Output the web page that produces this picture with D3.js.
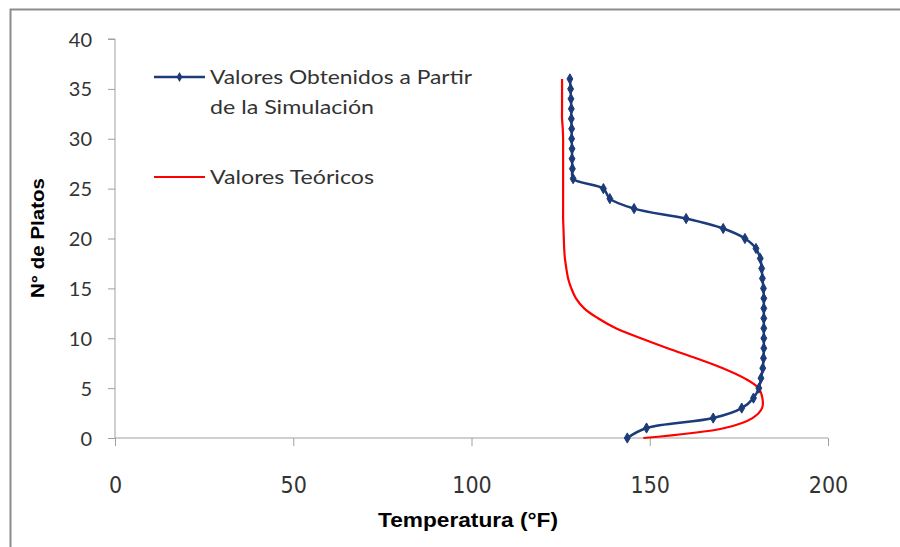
<!DOCTYPE html>
<html>
<head>
<meta charset="utf-8">
<script src="https://cdn.jsdelivr.net/npm/d3@7"></script>
<style>
  html, body { margin: 0; padding: 0; background: #fff; }
  svg { display: block; }
</style>
</head>
<body>
<svg id="chart" width="900" height="547"></svg>
<script>
// ---- Data ----
const plates = [0,1,2,3,4,5,6,7,8,9,10,11,12,13,14,15,16,17,18,19,20,21,22,23,24,25,26,27,28,29,30,31,32,33,34,35,36];
const simulatedTemp = [143.7,149.1,167.8,175.8,179.1,180.6,181.2,181.7,181.9,182,182,182,182,182,182,181.9,181.6,181.4,181,179.8,176.7,170.6,160.2,145.6,138.8,137.0,128.5,128.3,128.2,128.2,128.1,128.1,128.0,128.0,127.9,127.8,127.6];
const theoreticalTemp = [148.2,171,178.8,181.5,181.6,180.5,176.5,170.5,163,155,147.5,140.5,135.5,131.6,129.3,128,127.1,126.6,126.2,126,125.9,125.8,125.7,125.7,125.7,125.7,125.7,125.7,125.7,125.7,125.7,125.6,125.4,125.4,125.4,125.4,125.4];
const xTicks = [0,50,100,150,200];
const yTicks = [0,5,10,15,20,25,30,35,40];
const seriesNames = ["Valores Obtenidos a Partir", "de la Simulación", "Valores Teóricos"];
const xTitle = "Temperatura (°F)";
const yTitle = "N° de Platos";

// ---- Layout ----
const svg = d3.select("#chart");
const plotLeft = 115, plotRight = 828, plotTop = 39, plotBottom = 438;
const x = d3.scaleLinear().domain([0, 200]).range([plotLeft, plotRight]);
const y = d3.scaleLinear().domain([0, 40]).range([plotBottom, plotTop]);

const navy = "#1c3b7a";
const red = "#ff0000";
const axisGray = "#a0a0a0";
const labelFont = "Lato, 'Open Sans', sans-serif";
const narrowFont = "'Liberation Sans Narrow', 'DejaVu Sans Condensed', 'Liberation Sans', sans-serif";

// outer border
svg.append("rect").attr("x", 10.5).attr("y", 9.5).attr("width", 900).attr("height", 560)
  .attr("fill", "none").attr("stroke", "#8c8c8c").attr("stroke-width", 2);

// Y axis
const yAxis = d3.axisLeft(y).tickValues(yTicks).tickSize(7).tickPadding(16);
const gy = svg.append("g").attr("transform", `translate(${plotLeft},0)`).call(yAxis);
gy.select(".domain").attr("stroke", axisGray).attr("d", `M-7,${plotTop}H0V${plotBottom}`);
gy.selectAll(".tick line").attr("stroke", axisGray);
gy.selectAll(".tick text").attr("font-family", labelFont)
  .attr("font-size", 20).attr("fill", "#333").attr("dy", "0.35em");

// X axis (line at y=0, labels below)
const xAxis = d3.axisBottom(x).tickValues(xTicks).tickSize(8).tickPadding(31);
const gx = svg.append("g").attr("transform", `translate(0,${plotBottom})`).call(xAxis);
gx.select(".domain").attr("stroke", axisGray).attr("d", `M${plotLeft},0H${plotRight}`);
gx.selectAll(".tick line").attr("stroke", axisGray);
gx.selectAll(".tick text").attr("font-family", narrowFont)
  .attr("font-size", 23).attr("fill", "#333");

// Titles
svg.append("text").attr("x", 468).attr("y", 527).attr("text-anchor", "middle")
  .attr("font-family", "'Liberation Sans', Arial, sans-serif").attr("font-weight", "bold")
  .attr("font-size", 20).attr("textLength", 180).attr("lengthAdjust", "spacingAndGlyphs")
  .attr("fill", "#000").text(xTitle);
svg.append("text").attr("transform", "translate(44,238) rotate(-90)").attr("text-anchor", "middle")
  .attr("font-family", "'Liberation Sans', Arial, sans-serif").attr("font-weight", "bold")
  .attr("font-size", 19).attr("textLength", 120).attr("lengthAdjust", "spacingAndGlyphs")
  .attr("fill", "#000").text(yTitle);

// Series
const simData = plates.map((p, i) => ({ t: simulatedTemp[i], p }));
const theoData = plates.map((p, i) => ({ t: theoreticalTemp[i], p }));
const line = d3.line().x(d => x(d.t)).y(d => y(d.p)).curve(d3.curveCatmullRom.alpha(0.5));

svg.append("path").datum(theoData).attr("d", line).attr("fill", "none")
  .attr("stroke", red).attr("stroke-width", 2.2);
svg.append("path").datum(simData).attr("d", line).attr("fill", "none")
  .attr("stroke", navy).attr("stroke-width", 2.5);

const diamond = d3.symbol().type(d3.symbolDiamond).size(30);
svg.append("g").selectAll("path").data(simData).join("path")
  .attr("d", diamond).attr("transform", d => `translate(${x(d.t)},${y(d.p)})`)
  .attr("fill", navy).attr("stroke", navy).attr("stroke-width", 1);

// Legend
svg.append("line").attr("x1", 154).attr("x2", 205).attr("y1", 77).attr("y2", 77)
  .attr("stroke", navy).attr("stroke-width", 2.5);
svg.append("path").attr("d", diamond).attr("transform", "translate(179.5,77)").attr("fill", navy);
svg.append("text").attr("x", 210).attr("y", 84).attr("font-family", labelFont).attr("font-size", 20)
  .attr("textLength", 262).attr("lengthAdjust", "spacingAndGlyphs")
  .attr("fill", "#333").text(seriesNames[0]);
svg.append("text").attr("x", 210).attr("y", 114).attr("font-family", labelFont).attr("font-size", 20)
  .attr("textLength", 164).attr("lengthAdjust", "spacingAndGlyphs")
  .attr("fill", "#333").text(seriesNames[1]);
svg.append("line").attr("x1", 154).attr("x2", 205).attr("y1", 177).attr("y2", 177)
  .attr("stroke", red).attr("stroke-width", 2.2);
svg.append("text").attr("x", 210).attr("y", 184).attr("font-family", labelFont).attr("font-size", 20)
  .attr("textLength", 164).attr("lengthAdjust", "spacingAndGlyphs")
  .attr("fill", "#333").text(seriesNames[2]);
</script>
</body>
</html>
